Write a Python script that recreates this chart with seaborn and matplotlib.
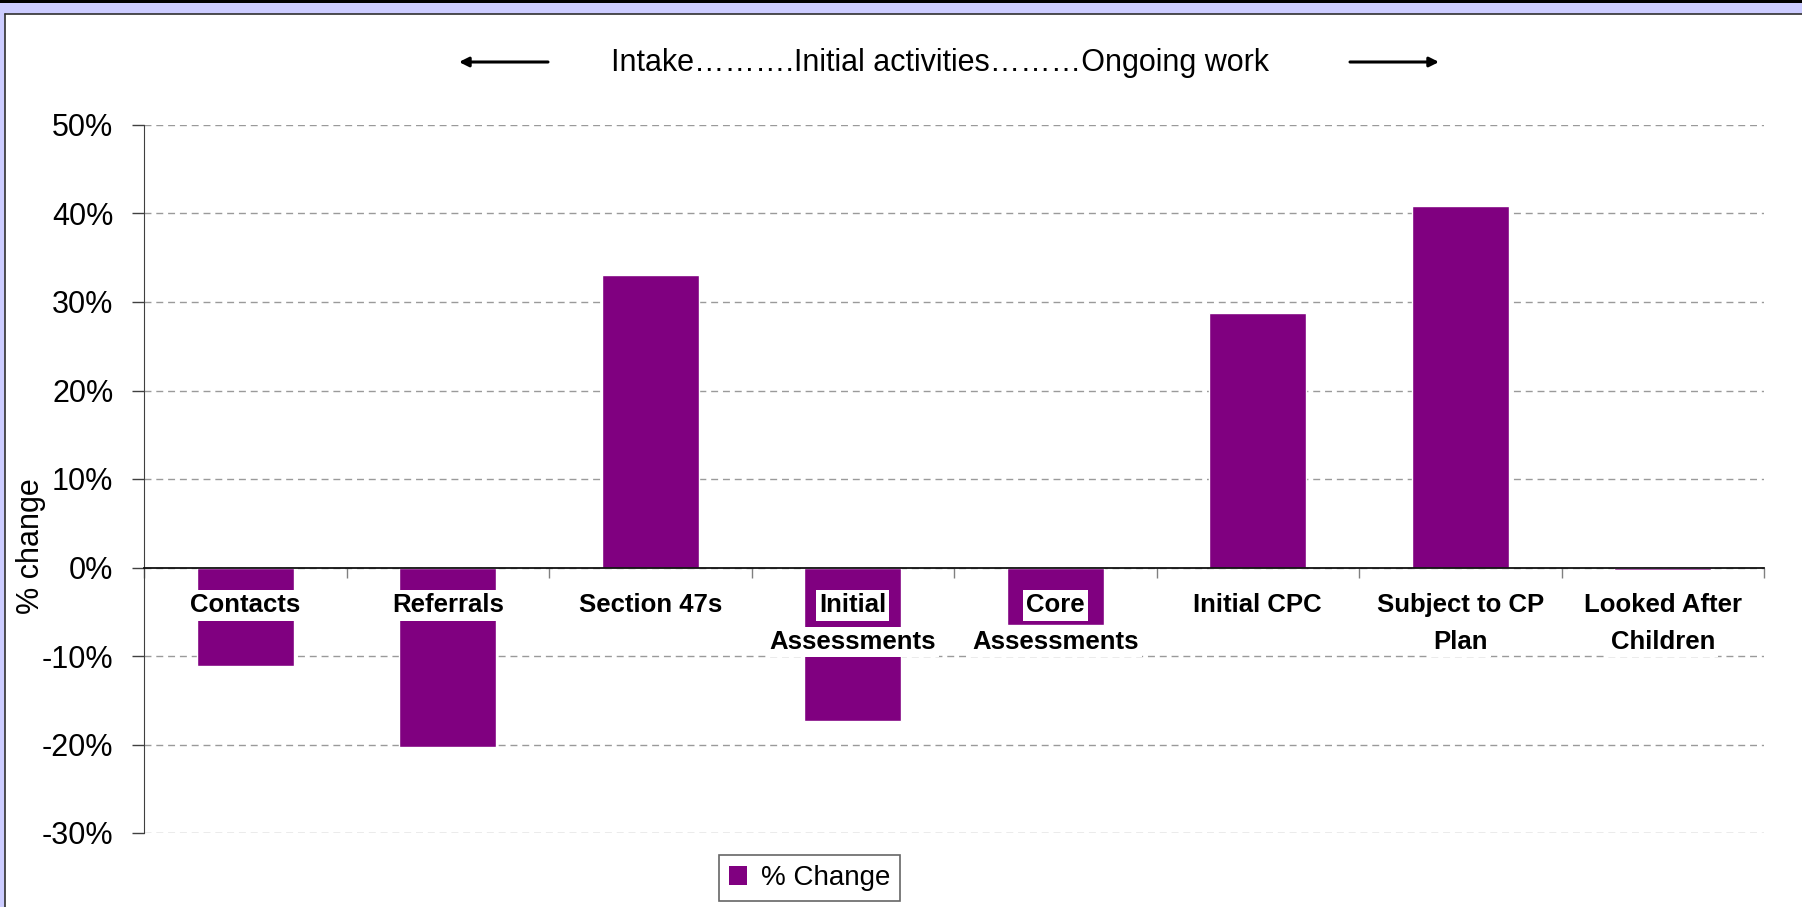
import matplotlib
matplotlib.use("Agg")
import matplotlib.pyplot as plt
from matplotlib.patches import Rectangle, Patch
from matplotlib.lines import Line2D
from matplotlib.ticker import FuncFormatter
import seaborn as sns
import numpy as np

# data
categories = ["Contacts", "Referrals", "Section 47s", "Initial\nAssessments",
              "Core\nAssessments", "Initial CPC", "Subject to CP\nPlan",
              "Looked After\nChildren"]
pct_change = [-11.1, -20.3, 33.1, -17.4, -6.5, 28.8, 40.8, -0.3]
y_ticks = [-30, -20, -10, 0, 10, 20, 30, 40, 50]
title_text = "Intake\u2026\u2026\u2026.Initial activities\u2026\u2026\u2026Ongoing work"
series_name = "% Change"

PURPLE = "#800080"
W, H = 1802, 907

sns.set_style("white")
plt.rcParams["font.family"] = ["Liberation Sans", "DejaVu Sans"]
plt.rcParams["text.color"] = "black"
plt.rcParams["ytick.labelcolor"] = "black"

fig = plt.figure(figsize=(W / 100, H / 100), dpi=100)
ax = fig.add_axes([144 / W, 1 - 833 / H, (1764 - 144) / W, (833 - 125) / H])

sns.barplot(x=categories, y=pct_change, color=PURPLE, saturation=1,
            width=0.477, ax=ax, zorder=3)

ax.set_xlim(-0.5, len(categories) - 0.5)
ax.set_ylim(-30, 50)
ax.set_yticks(y_ticks)
ax.yaxis.set_major_formatter(FuncFormatter(lambda v, p: f"{v:.0f}%"))
ax.tick_params(axis="y", labelsize=22, direction="out", length=9, width=1,
               color="#404040", labelcolor="black", pad=13, left=True)
ax.grid(axis="y", color="#9a9a9a", linestyle=(0, (5, 3.5)), linewidth=1, zorder=0)
ax.set_axisbelow(True)

# category axis sits on the zero line, ticks at the category boundaries
for s in ["top", "right"]:
    ax.spines[s].set_visible(False)
ax.spines["left"].set_color("#404040")
ax.spines["bottom"].set_position(("data", 0))
ax.spines["bottom"].set_color("#101010")
ax.spines["bottom"].set_linewidth(1.3)
ax.spines["bottom"].set_zorder(4)
ax.set_xticks(np.arange(-0.5, len(categories), 1.0))
ax.set_xticklabels([])
ax.tick_params(axis="x", direction="out", length=7.5, width=1, color="#808080", bottom=True)
ax.set_xlabel("")
ax.set_ylabel("")

# category labels with white boxes laid over the bars, one box per line
line_y = [-4.29, -8.45]
for i, cat in enumerate(categories):
    for j, part in enumerate(cat.split("\n")):
        ax.text(i, line_y[j], part, ha="center", va="center", fontsize=18.5,
                fontweight="bold", color="black", zorder=5,
                bbox=dict(boxstyle="square,pad=0.12", facecolor="white", edgecolor="none"))

fig.text(31 / W, 1 - 546 / H, "% change", rotation=90, ha="center", va="center",
         fontsize=22, color="black")

# header text with arrows
fig.text(940 / W, 1 - 63 / H, title_text, ha="center", va="center", fontsize=22, color="black")
arrow = dict(arrowstyle="-|>", color="black", lw=2.2, mutation_scale=14, shrinkA=0, shrinkB=0)
fig.add_artist(matplotlib.text.Annotation("", xy=(459 / W, 1 - 62 / H), xytext=(548 / W, 1 - 62 / H),
                                          xycoords="figure fraction", arrowprops=arrow))
fig.add_artist(matplotlib.text.Annotation("", xy=(1439 / W, 1 - 62 / H), xytext=(1350 / W, 1 - 62 / H),
                                          xycoords="figure fraction", arrowprops=arrow))

# legend
handle = Patch(facecolor=PURPLE, edgecolor="none", label=series_name)
leg = fig.legend(handles=[handle], loc="center", bbox_to_anchor=(809.5 / W, 1 - 878 / H),
                 fontsize=20, frameon=True, fancybox=False, handlelength=0.65,
                 handleheight=0.65, handletextpad=0.5, borderpad=0.35, borderaxespad=0,
                 labelcolor="black")
leg.get_frame().set_edgecolor("#404040")
leg.get_frame().set_linewidth(1.2)

# window-style border: lavender strip at top and left
fig.add_artist(Rectangle((0, 1 - 14 / H), 1, 14 / H, transform=fig.transFigure,
                         facecolor="#CCCCFF", edgecolor="none", zorder=10))
fig.add_artist(Rectangle((0, 0), 5 / W, 1, transform=fig.transFigure,
                         facecolor="#CCCCFF", edgecolor="none", zorder=10))
fig.add_artist(Rectangle((0, 1 - 3 / H), 1, 3 / H, transform=fig.transFigure,
                         facecolor="black", edgecolor="none", zorder=11))
fig.add_artist(Line2D([5 / W, 1], [1 - 13.5 / H, 1 - 13.5 / H], transform=fig.transFigure,
                      color="#303030", lw=1.2, zorder=11))
fig.add_artist(Line2D([4.5 / W, 4.5 / W], [0, 1 - 13.5 / H], transform=fig.transFigure,
                      color="#303030", lw=1.2, zorder=11))

fig.savefig("out.png", dpi=100)
